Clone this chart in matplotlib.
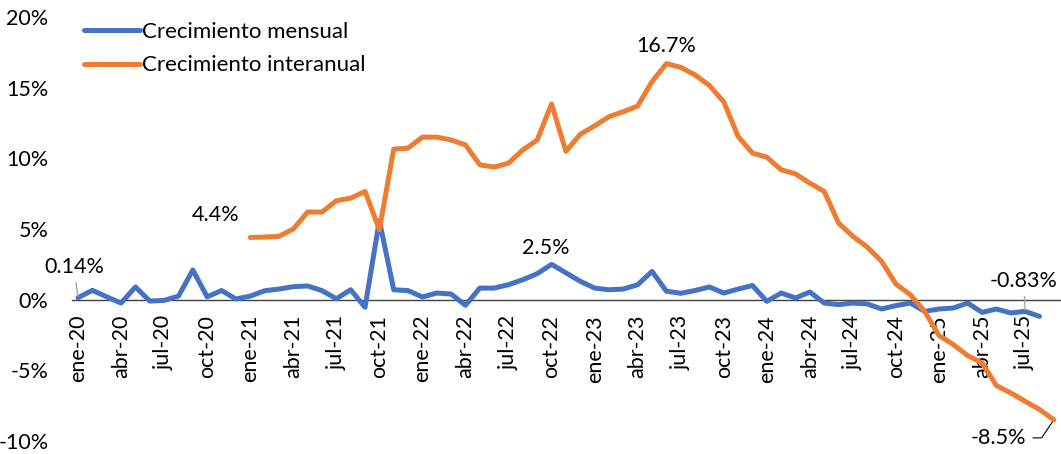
import matplotlib.pyplot as plt
import numpy as np

plt.rcParams['font.family'] = ['Lato', 'DejaVu Sans']

# Monthly data, ene-20 .. ago-25 (mensual) and ene-21 .. sep-25 (interanual)
mensual = [0.14, 0.66, 0.2, -0.24, 0.9, -0.1, -0.05, 0.25, 2.1, 0.2, 0.65, 0.05,
           0.25, 0.63, 0.75, 0.92, 0.97, 0.64, 0.07, 0.7, -0.54, 5.6, 0.7, 0.64,
           0.19, 0.47, 0.4, -0.4, 0.82, 0.82, 1.06, 1.41, 1.84, 2.5, 1.9, 1.3,
           0.82, 0.7, 0.75, 1.06, 2.0, 0.6, 0.45, 0.65, 0.9, 0.47, 0.75, 1.0,
           -0.12, 0.47, 0.12, 0.54, -0.24, -0.35, -0.24, -0.3, -0.66, -0.42, -0.24, -0.83,
           -0.66, -0.59, -0.24, -0.9, -0.66, -0.94, -0.83, -1.18]
interanual = [4.4, 4.43, 4.48, 5.0, 6.2, 6.2, 7.0, 7.18, 7.66, 4.95, 10.65, 10.72,
              11.5, 11.5, 11.3, 10.95, 9.54, 9.38, 9.66, 10.6, 11.3, 13.85, 10.5, 11.7,
              12.3, 12.95, 13.3, 13.7, 15.43, 16.7, 16.44, 15.9, 15.15, 14.0, 11.54, 10.37,
              10.08, 9.19, 8.9, 8.24, 7.66, 5.42, 4.48, 3.72, 2.71, 1.1, 0.35, -0.83,
              -2.54, -3.18, -3.96, -4.48, -6.08, -6.6, -7.19, -7.77, -8.5]
inter_start = 12  # ene-21

tick_labels = ['ene-20', 'abr-20', 'jul-20', 'oct-20', 'ene-21', 'abr-21', 'jul-21', 'oct-21',
               'ene-22', 'abr-22', 'jul-22', 'oct-22', 'ene-23', 'abr-23', 'jul-23', 'oct-23',
               'ene-24', 'abr-24', 'jul-24', 'oct-24', 'ene-25', 'abr-25', 'jul-25']

x_m = np.arange(len(mensual))
x_i = np.arange(inter_start, inter_start + len(interanual))

fig = plt.figure(figsize=(10.61, 4.54), dpi=100)
ax = fig.add_axes([72 / 1061, 1 - 441 / 454, 1 - 72 / 1061, 424 / 454])

# zero line as the bottom spine (set before tick labels, it resets ticks)
for s in ['top', 'right', 'left']:
    ax.spines[s].set_visible(False)
ax.spines['bottom'].set_position(('data', 0))
ax.spines['bottom'].set_color('#404040')
ax.spines['bottom'].set_linewidth(1)
ax.spines['bottom'].set_zorder(2)

blue = '#4472C4'
orange = '#ED7D31'
ax.plot(x_m, mensual, color=blue, lw=3.6, solid_joinstyle='round',
        solid_capstyle='round', label='Crecimiento mensual', zorder=3)
ax.plot(x_i, interanual, color=orange, lw=3.6, solid_joinstyle='round',
        solid_capstyle='round', label='Crecimiento interanual', zorder=4)

ax.set_ylim(-10, 20)
ax.set_xlim(-0.42, 68.5)
ax.set_yticks(np.arange(-10, 21, 5))
ax.set_yticklabels([f'{v}%' for v in range(-10, 21, 5)], fontsize=15.5)
ax.set_xticks(np.arange(0, len(tick_labels) * 3, 3))
ax.set_xticklabels(tick_labels, rotation=90, fontsize=15.5)
ax.tick_params(axis='y', length=0, pad=17)
ax.tick_params(axis='x', length=0, pad=11)

ax.legend(loc='upper left', bbox_to_anchor=(-0.008, 1.035), frameon=False,
          fontsize=16, handlelength=2.5, handletextpad=0.12, labelspacing=0.6)

# data labels
kw = dict(textcoords='offset points', ha='center', va='center', fontsize=15.5)
ax.annotate('0.14%', xy=(x_m[0], mensual[0]), xytext=(-3, 22),
            arrowprops=dict(arrowstyle='-', color='#a6a6a6', lw=1, shrinkA=2, shrinkB=1), **kw)
ax.annotate('4.4%', xy=(x_i[0], interanual[0]), xytext=(-25, 16), **kw)
ax.annotate('2.5%', xy=(x_m[33], mensual[33]), xytext=(-4, 12), **kw)
ax.annotate('16.7%', xy=(x_i[29], interanual[29]), xytext=(0, 13), **kw)
ax.annotate('-0.83%', xy=(x_m[66], mensual[66]), xytext=(-1, 22),
            arrowprops=dict(arrowstyle='-', color='#a6a6a6', lw=1, shrinkA=2, shrinkB=1), **kw)
ax.annotate('-8.5%', xy=(x_i[-1], interanual[-1]), xytext=(-40, -13),
            arrowprops=dict(arrowstyle='-', color='black', lw=0.8, shrinkA=3, shrinkB=0,
                            connectionstyle='angle,angleA=0,angleB=56,rad=0'), **kw)

fig.savefig('out.png', dpi=100)
